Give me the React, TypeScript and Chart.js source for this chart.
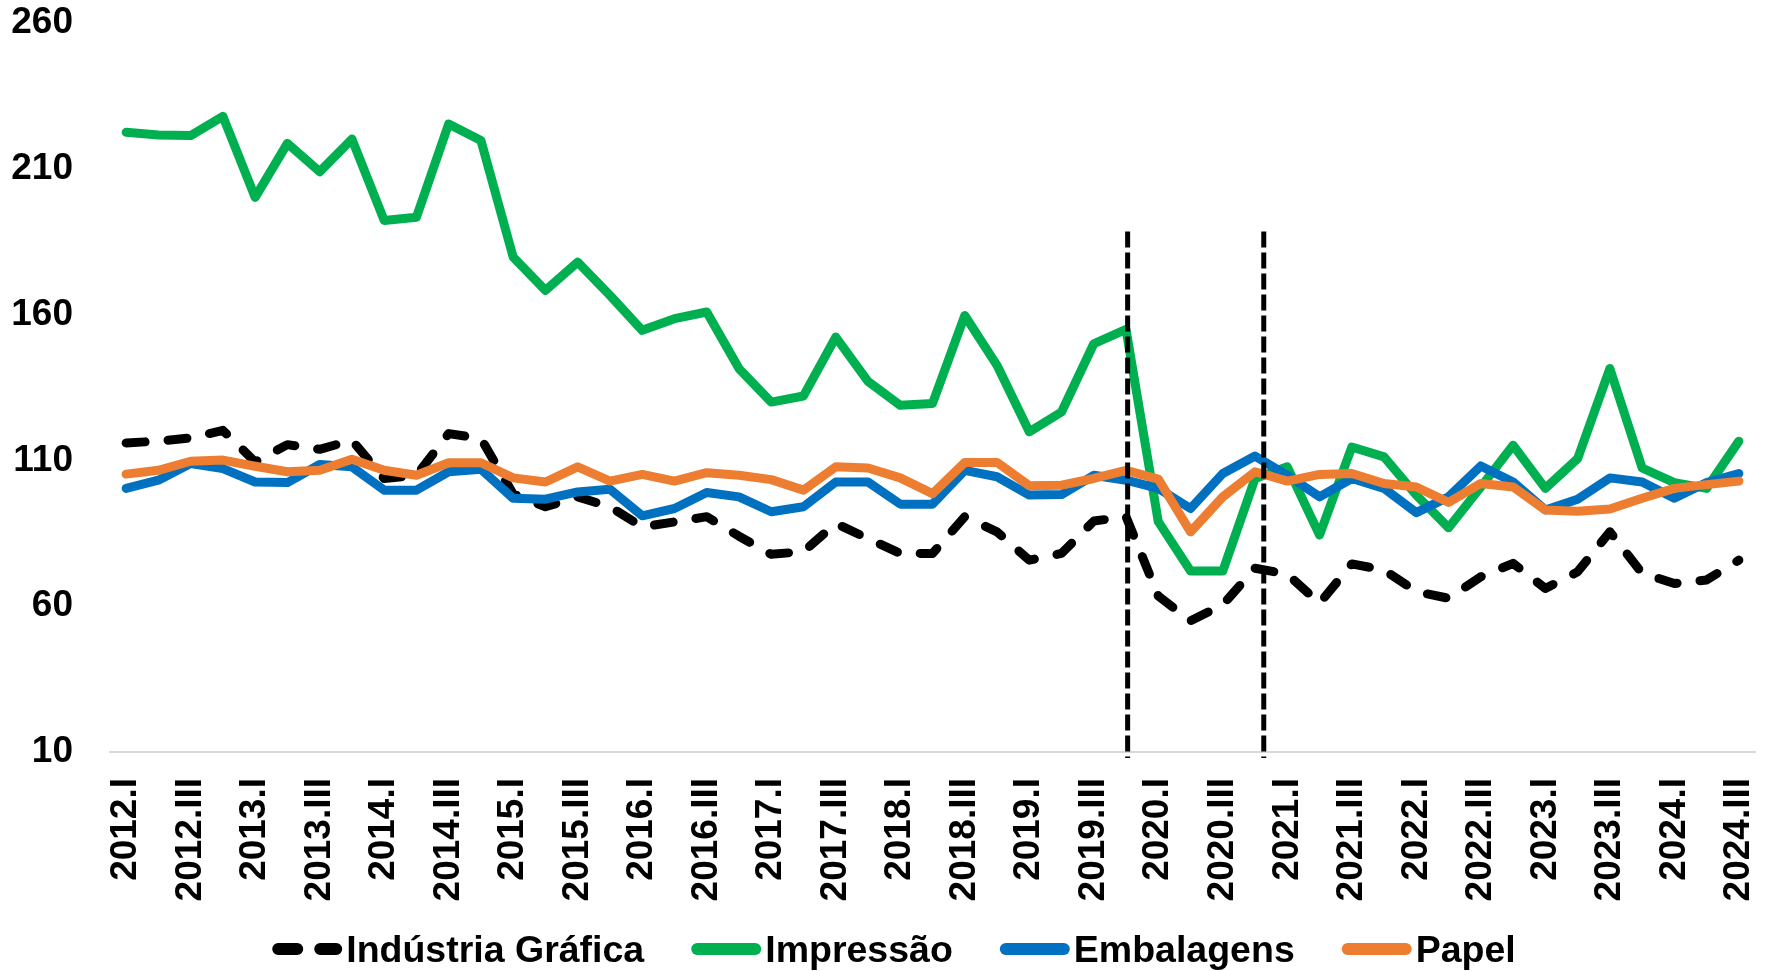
import React, { useEffect, useRef } from 'react';
import { Chart, registerables } from 'chart.js';

Chart.register(...registerables);

const categories: string[] = [
  '2012.I', '2012.II', '2012.III', '2012.IV',
  '2013.I', '2013.II', '2013.III', '2013.IV',
  '2014.I', '2014.II', '2014.III', '2014.IV',
  '2015.I', '2015.II', '2015.III', '2015.IV',
  '2016.I', '2016.II', '2016.III', '2016.IV',
  '2017.I', '2017.II', '2017.III', '2017.IV',
  '2018.I', '2018.II', '2018.III', '2018.IV',
  '2019.I', '2019.II', '2019.III', '2019.IV',
  '2020.I', '2020.II', '2020.III', '2020.IV',
  '2021.I', '2021.II', '2021.III', '2021.IV',
  '2022.I', '2022.II', '2022.III', '2022.IV',
  '2023.I', '2023.II', '2023.III', '2023.IV',
  '2024.I', '2024.II', '2024.III',
];

const industriaGrafica: number[] = [
  116.0, 116.6, 117.7, 120.3, 109.5, 115.4, 113.8, 116.9, 103.8, 104.9, 119.2, 117.5, 98.5,
  94.1, 97.5, 94.1, 87.2, 88.9, 90.7, 84.0, 77.8, 78.7, 88.4, 83.2, 78.1, 78.1,
  90.7, 85.5, 75.8, 78.1, 89.2, 90.7, 63.5, 55.0, 60.5, 73.0, 71.0, 61.0,
  74.5, 72.4, 65.0, 62.7, 70.1, 74.7, 66.1, 71.8, 85.5, 71.3, 67.8, 69.0, 75.8,
];

const impressao: number[] = [
  222.5, 221.6, 221.4, 228.0, 200.2, 218.7, 209.0, 220.2, 192.3, 193.4, 225.4, 219.7, 179.7,
  168.3, 178.0, 166.6, 154.6, 158.6, 160.9, 141.5, 130.0, 132.1, 152.3, 137.1, 128.9, 129.5,
  159.7, 142.6, 119.8, 126.6, 150.0, 154.9, 89.0, 72.1, 72.1, 103.8, 107.8, 84.4,
  114.6, 111.2, 98.1, 86.9, 100.9, 115.2, 100.4, 110.6, 141.5, 107.4, 102.4, 100.4, 116.6,
];

const embalagens: number[] = [
  100.4, 103.2, 108.9, 107.2, 102.6, 102.4, 108.6, 107.8, 99.8, 99.8, 106.1, 107.0, 97.0,
  96.7, 99.2, 100.1, 91.0, 93.5, 99.0, 97.5, 92.4, 94.1, 102.6, 102.6, 95.0, 95.0,
  106.6, 104.4, 98.1, 98.3, 104.9, 103.2, 100.4, 93.5, 105.5, 111.5, 104.9, 97.5,
  103.8, 100.4, 92.1, 97.5, 108.1, 102.6, 93.0, 96.7, 104.0, 102.6, 97.0, 102.4, 105.5,
];

const papel: number[] = [
  105.3, 106.6, 109.7, 110.1, 108.0, 106.1, 106.6, 110.4, 106.6, 104.9, 109.2, 109.2, 104.0,
  102.6, 107.8, 102.9, 105.2, 102.9, 105.8, 104.9, 103.4, 99.8, 107.8, 107.4, 104.0, 98.6,
  109.3, 109.3, 101.3, 101.5, 103.8, 106.6, 103.6, 85.5, 97.5, 106.1, 102.9, 105.2,
  105.5, 102.1, 100.9, 95.6, 102.1, 100.9, 93.0, 92.6, 93.3, 97.0, 100.4, 101.7, 102.9,
];

const yTickValues: number[] = [10, 60, 110, 160, 210, 260];

// category positions (index along the x axis) of the two vertical dashed markers
const markerPositions: number[] = [31.05, 35.27];
const markerTopValue = 188.5;

const FONT = '"Liberation Sans", Arial, sans-serif';

const markerPlugin = {
  id: 'markers',
  afterDatasetsDraw(chart: any) {
    const { ctx, chartArea } = chart;
    const xs = chart.scales.x;
    const ys = chart.scales.y;
    ctx.save();
    ctx.strokeStyle = '#000000';
    ctx.lineWidth = 5;
    ctx.setLineDash([16, 5]);
    ctx.lineCap = 'butt';
    for (const p of markerPositions) {
      const x = xs.getPixelForValue(p);
      ctx.beginPath();
      ctx.moveTo(x, ys.getPixelForValue(markerTopValue));
      ctx.lineTo(x, chartArea.bottom + 6);
      ctx.stroke();
    }
    ctx.restore();
  },
};

const legendPlugin = {
  id: 'customLegend',
  afterDraw(chart: any) {
    const { ctx, width } = chart;
    const datasets = chart.data.datasets;
    ctx.save();
    ctx.font = `bold 37.5px ${FONT}`;
    const sample = 70;
    const gapText = 4;
    const gapItem = 47;
    const lw = 12;
    const widths = datasets.map((d: any) => ctx.measureText(d.label).width);
    let total = 0;
    widths.forEach((w: number) => { total += sample + gapText + w; });
    total += gapItem * (datasets.length - 1);
    let x = width / 2 + 8 - total / 2;
    const yLine = 949;
    const yText = 962;
    datasets.forEach((d: any, i: number) => {
      ctx.beginPath();
      ctx.strokeStyle = d.borderColor;
      ctx.lineWidth = lw;
      ctx.lineCap = 'round';
      ctx.setLineDash(d.borderDash && d.borderDash.length ? [19, 23] : []);
      ctx.moveTo(x + lw / 2, yLine);
      ctx.lineTo(x + sample - lw / 2, yLine);
      ctx.stroke();
      ctx.setLineDash([]);
      ctx.fillStyle = '#000000';
      ctx.textBaseline = 'alphabetic';
      ctx.textAlign = 'left';
      ctx.fillText(d.label, x + sample + gapText, yText);
      x += sample + gapText + widths[i] + gapItem;
    });
    ctx.restore();
  },
};

export default function App() {
  const canvasRef = useRef<HTMLCanvasElement | null>(null);

  useEffect(() => {
    document.body.style.margin = '0';
    document.body.style.overflow = 'hidden';
    const canvas = canvasRef.current;
    if (!canvas) return;
    const lineCommon = {
      borderWidth: 9,
      pointRadius: 0,
      pointHoverRadius: 0,
      tension: 0,
      borderCapStyle: 'round' as const,
      borderJoinStyle: 'round' as const,
      fill: false,
    };
    const chart = new Chart(canvas, {
      type: 'line',
      data: {
        labels: categories,
        datasets: [
          { ...lineCommon, label: 'Indústria Gráfica', data: industriaGrafica, borderColor: '#000000', backgroundColor: '#000000', borderDash: [19, 23], order: 3 },
          { ...lineCommon, label: 'Impressão', data: impressao, borderColor: '#00B050', backgroundColor: '#00B050', order: 2 },
          { ...lineCommon, label: 'Embalagens', data: embalagens, borderColor: '#0070C0', backgroundColor: '#0070C0', order: 1 },
          { ...lineCommon, label: 'Papel', data: papel, borderColor: '#ED7D31', backgroundColor: '#ED7D31', order: 0 },
        ],
      },
      options: {
        animation: false,
        responsive: false,
        maintainAspectRatio: false,
        events: [],
        layout: { padding: { top: 23, left: 11, right: 17, bottom: 70 } },
        plugins: {
          legend: { display: false },
          tooltip: { enabled: false },
        },
        scales: {
          x: {
            type: 'category',
            offset: true,
            grid: { display: false, drawTicks: false },
            border: { display: true, color: '#D9D9D9', width: 2 },
            afterFit: (s: any) => {
              s.height = 149;
              s.paddingLeft = 0;
              s.paddingRight = 0;
              s.paddingTop = 0;
              s.paddingBottom = 0;
            },
            ticks: {
              autoSkip: false,
              minRotation: 90,
              maxRotation: 90,
              padding: 26,
              color: '#000000',
              font: { family: FONT, size: 37, weight: 'bold' },
              callback: (_v: any, idx: number) => (idx % 2 === 0 ? categories[idx] : ''),
            },
          },
          y: {
            min: 10,
            max: 260,
            grid: { display: false, drawTicks: false },
            border: { display: false },
            afterBuildTicks: (axis: any) => {
              axis.ticks = yTickValues.map((v) => ({ value: v }));
            },
            afterFit: (s: any) => {
              s.width = 99;
              s.paddingTop = 0;
              s.paddingBottom = 0;
              s.paddingLeft = 0;
              s.paddingRight = 0;
            },
            ticks: {
              padding: 37,
              color: '#000000',
              font: { family: FONT, size: 37, weight: 'bold' },
            },
          },
        },
      },
      plugins: [markerPlugin, legendPlugin],
    });
    return () => chart.destroy();
  }, []);

  return (
    <div style={{ position: 'absolute', left: 0, top: 0, width: 1772, height: 971, background: '#ffffff' }}>
      <canvas ref={canvasRef} width={1772} height={971} style={{ display: 'block', width: 1772, height: 971 }} />
    </div>
  );
}
